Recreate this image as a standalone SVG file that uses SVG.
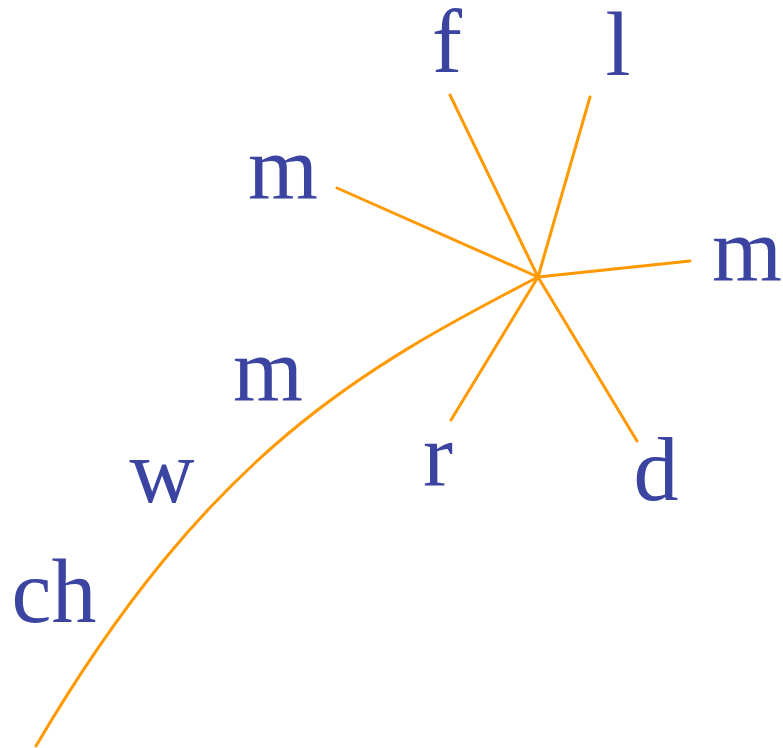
<svg xmlns="http://www.w3.org/2000/svg" width="783" height="748" viewBox="0 0 783 748">
<style>
.t{font-family:"Liberation Serif","DejaVu Serif",serif;font-size:90px;fill:#3b44a0;text-anchor:middle}
.c{stroke:#ff9900;stroke-width:3;fill:none;stroke-linecap:round}
</style>
<rect width="783" height="748" fill="#fff"/>
<g id="connectors">
<line class="c" x1="538" y1="277" x2="450" y2="95"/>
<line class="c" x1="538" y1="277" x2="590" y2="97"/>
<line class="c" x1="538" y1="277" x2="337" y2="188"/>
<line class="c" x1="538" y1="277" x2="690" y2="261"/>
<line class="c" x1="538" y1="277" x2="451" y2="420"/>
<line class="c" x1="538" y1="277" x2="637" y2="441"/>
<path class="c" d="M538,277 C365,367 210,450 36,746"/>
</g>
<g id="n-f"><text class="t" x="447" y="72">f</text></g>
<g id="n-l"><text class="t" x="618" y="75">l</text></g>
<g id="n-m1"><text class="t" x="283" y="199">m</text></g>
<g id="n-m2"><text class="t" x="747" y="281">m</text></g>
<g id="n-m3"><text class="t" x="268" y="401">m</text></g>
<g id="n-w"><text class="t" x="162" y="502">w</text></g>
<g id="n-r"><text class="t" x="438" y="486">r</text></g>
<g id="n-d"><text class="t" x="656" y="500">d</text></g>
<g id="n-ch"><text class="t" x="54" y="622">ch</text></g>
</svg>
